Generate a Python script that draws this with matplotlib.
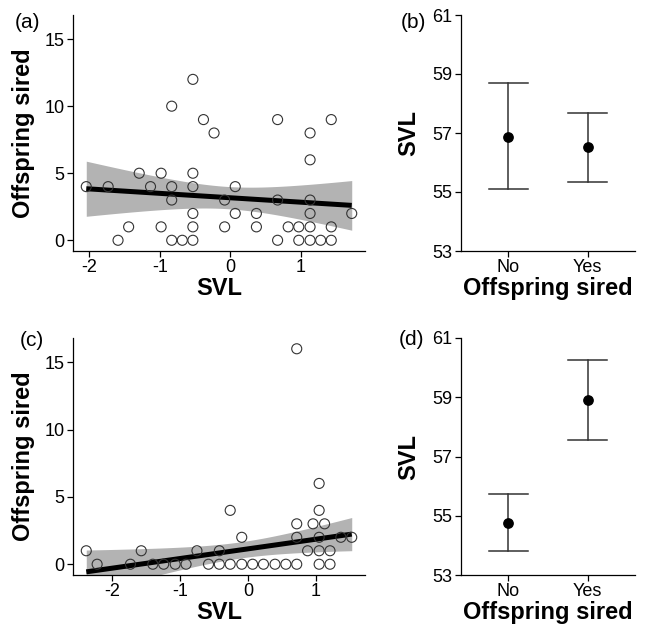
import numpy as np
import matplotlib
matplotlib.use("Agg")
import matplotlib.pyplot as plt

plt.rcParams['font.family'] = ['Liberation Sans', 'DejaVu Sans']

# Panel (a) data
a_x = [-2.04, -1.73, -1.59, -1.44, -1.29, -1.13, -0.98, -0.98, -0.83, -0.83, -0.83, -0.83,
       -0.68, -0.53, -0.53, -0.53, -0.53, -0.53, -0.53, -0.38, -0.23, -0.08, -0.08, 0.07,
       0.07, 0.37, 0.37, 0.67, 0.67, 0.67, 0.82, 0.97, 0.97, 1.13, 1.13, 1.13, 1.13, 1.13,
       1.13, 1.28, 1.43, 1.43, 1.43, 1.72]
a_y = [4, 4, 0, 1, 5, 4, 5, 1, 10, 4, 3, 0,
       0, 12, 5, 4, 2, 1, 0, 9, 8, 3, 1, 4,
       2, 2, 1, 9, 3, 0, 1, 1, 0, 8, 6, 3, 2, 1,
       0, 0, 9, 1, 0, 2]
# fitted line (intercept, slope) and CI band shape (min half-width, x at min, growth)
a_fit = [3.17, -0.33]
a_band = [0.83, -0.04, 0.94]

# Panel (c) data
c_x = [-2.38, -2.22, -1.73, -1.57, -1.40, -1.24, -1.07, -0.91, -0.75, -0.58, -0.42, -0.42,
       -0.26, -0.26, -0.09, -0.09, 0.07, 0.23, 0.40, 0.56, 0.72, 0.72, 0.72, 0.72, 0.88,
       0.96, 1.05, 1.05, 1.05, 1.05, 1.05, 1.13, 1.21, 1.21, 1.37, 1.53]
c_y = [1, 0, 0, 1, 0, 0, 0, 0, 1, 0, 1, 0,
       4, 0, 2, 0, 0, 0, 0, 0, 16, 3, 2, 0, 1,
       3, 6, 4, 2, 1, 0, 3, 1, 0, 2, 2]
c_fit = [1.14, 0.717]
c_band = [0.60, -0.10, 0.66]

# Panels (b), (d): means and interval limits
groups = ["No", "Yes"]
b_mean = [56.87, 56.52]
b_low = [55.10, 55.34]
b_high = [58.70, 57.69]
d_mean = [54.77, 58.92]
d_low = [53.82, 57.57]
d_high = [55.75, 60.26]

W, H = 645, 627
fig = plt.figure(figsize=(W / 100, H / 100), dpi=100)

def ax_px(l, t, r, b):
    return fig.add_axes([l / W, 1 - b / H, (r - l) / W, (b - t) / H])

TICK_FS = 13
LAB_FS = 17
TAG_FS = 15
DARK = '#333333'

def style(ax):
    for s in ['top', 'right']:
        ax.spines[s].set_visible(False)
    for s in ['left', 'bottom']:
        ax.spines[s].set_linewidth(0.9)
        ax.spines[s].set_color('black')
    ax.tick_params(direction='out', length=4, width=0.9, labelsize=TICK_FS,
                   colors='black', pad=2)

def labels(ax, xl, yl, xlab_y, ylab_x):
    ax.set_xlabel(xl, fontsize=LAB_FS, fontweight='bold')
    ax.set_ylabel(yl, fontsize=LAB_FS, fontweight='bold')
    ax.xaxis.set_label_coords(0.5, xlab_y)
    ax.yaxis.set_label_coords(ylab_x, 0.5)
    ax.xaxis.label.set_va('center')
    ax.yaxis.label.set_va('center')

def scatter_panel(ax, x, y, fit, band, xticks, tag, tagpos):
    x = np.asarray(x, float)
    y = np.asarray(y, float)
    xs = np.linspace(x.min(), x.max(), 100)
    ys = fit[0] + fit[1] * xs
    half = np.sqrt(band[0] ** 2 + (band[2] * (xs - band[1])) ** 2)
    ax.fill_between(xs, ys - half, ys + half, color='#b3b3b3', lw=0, zorder=1)
    ax.plot(xs, ys, color='black', lw=3.6, zorder=2, solid_capstyle='butt')
    ax.scatter(x, y, s=52, facecolor='none', edgecolor=DARK, linewidth=0.8, zorder=3)
    rng = x.max() - x.min()
    ax.set_xlim(x.min() - 0.05 * rng, x.max() + 0.05 * rng)
    ax.set_ylim(-0.8, 16.8)
    ax.set_yticks([0, 5, 10, 15])
    ax.set_xticks(xticks)
    ax.set_xticklabels([str(v) for v in xticks])
    style(ax)
    labels(ax, 'SVL', 'Offspring sired', -0.16, -0.17)
    fig.text(tagpos[0] / W, 1 - tagpos[1] / H, tag, fontsize=TAG_FS, ha='center', va='center')

def err_panel(ax, mean, low, high, tag, tagpos):
    pos = np.arange(1, len(groups) + 1)
    for p, m, lo, hi in zip(pos, mean, low, high):
        ax.plot([p, p], [lo, hi], color=DARK, lw=1.1, zorder=1)
        ax.plot([p - 0.25, p + 0.25], [lo, lo], color=DARK, lw=1.1, zorder=1)
        ax.plot([p - 0.25, p + 0.25], [hi, hi], color=DARK, lw=1.1, zorder=1)
    ax.scatter(pos, mean, s=45, color='black', zorder=3)
    ax.set_xlim(0.4, 2.6)
    ax.set_ylim(53, 61)
    ax.set_yticks([53, 55, 57, 59, 61])
    ax.set_xticks(pos)
    ax.set_xticklabels(groups)
    style(ax)
    labels(ax, 'Offspring sired', 'SVL', -0.157, -0.30)
    fig.text(tagpos[0] / W, 1 - tagpos[1] / H, tag, fontsize=TAG_FS, ha='center', va='center')

ax_a = ax_px(73, 15, 365, 251)
scatter_panel(ax_a, a_x, a_y, a_fit, a_band, [-2, -1, 0, 1], '(a)', (28, 23))
ax_b = ax_px(461, 15, 635, 251)
err_panel(ax_b, b_mean, b_low, b_high, '(b)', (413, 22))
ax_c = ax_px(73, 338, 365, 575)
scatter_panel(ax_c, c_x, c_y, c_fit, c_band, [-2, -1, 0, 1], '(c)', (32, 340))
ax_d = ax_px(461, 338, 635, 575)
err_panel(ax_d, d_mean, d_low, d_high, '(d)', (411, 339))

fig.savefig('out.png', dpi=100)
